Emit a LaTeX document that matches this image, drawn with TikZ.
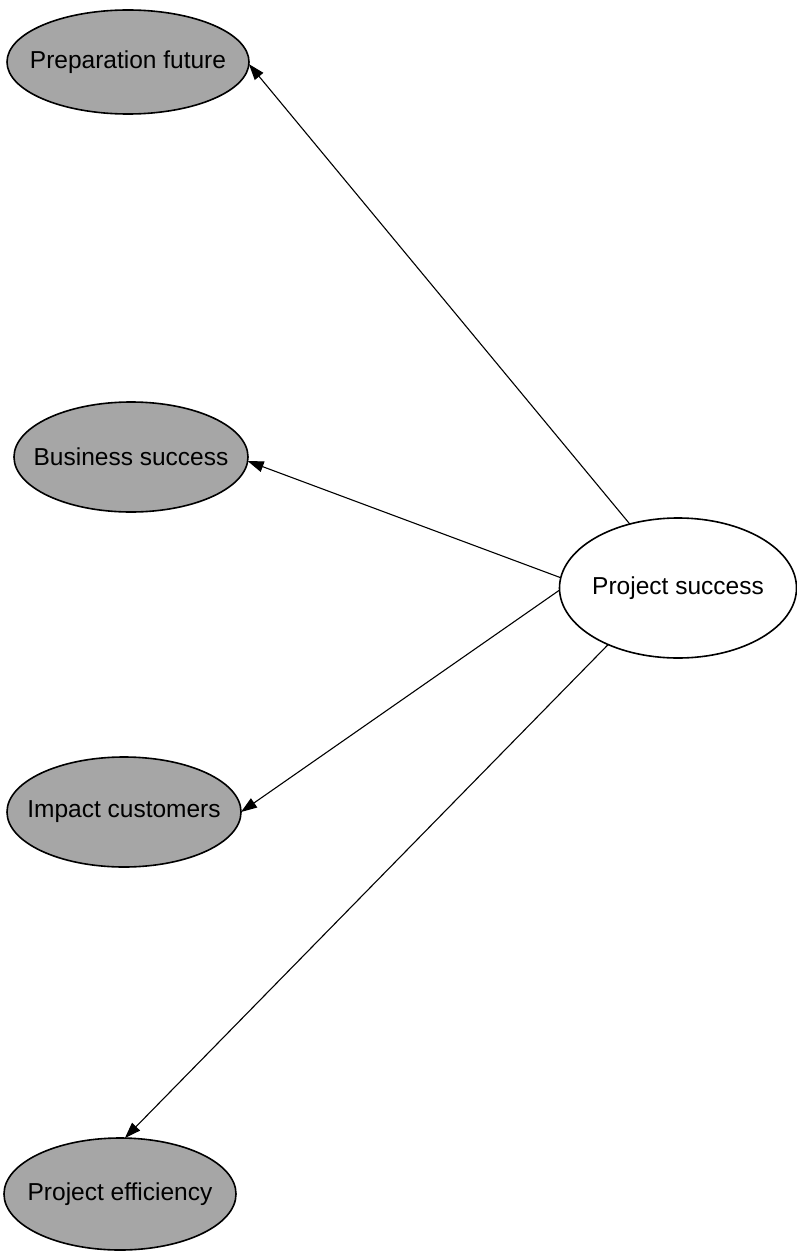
\documentclass[tikz,border=0pt]{standalone}
\usepackage{fontspec}
\setmainfont{Liberation Sans}
\usetikzlibrary{shapes.geometric,arrows.meta}
\begin{document}
\begin{tikzpicture}[x=1pt,y=-1pt,
  ell/.style={ellipse,draw=black,line width=1.6pt,inner sep=0pt,outer sep=0pt},
  txt/.style={font=\fontsize{24.5}{28}\selectfont},
  greyell/.style={ell,fill=black!35},
  link/.style={line width=1.1pt,-{Triangle[length=16pt,width=11pt]}}]
\useasboundingbox (0,0) rectangle (797,1252);
\fill[white] (0,0) rectangle (797,1252);
\node[greyell,minimum width=242pt,minimum height=104pt,label={[txt]center:Preparation future}] (pf) at (128,62) {};
\node[greyell,minimum width=234pt,minimum height=110pt,label={[txt]center:Business success}] (bs) at (131,457) {};
\node[greyell,minimum width=234pt,minimum height=110pt,label={[txt]center:Impact customers}] (ic) at (124,812) {};
\node[greyell,minimum width=232pt,minimum height=112pt,label={[txt]center:Project efficiency}] (pe) at (120,1194) {};
\node[ell,fill=white,minimum width=237pt,minimum height=140pt,label={[txt]center:Project success}] (ps) at (678,588) {};
\draw[link] (ps.127) -- (pf.-1);
\draw[link] (ps.175) -- (bs.-2);
\draw[link] (ps.181) -- (ic.0);
\draw[link] (ps.219) -- (pe.85);
\end{tikzpicture}
\end{document}
